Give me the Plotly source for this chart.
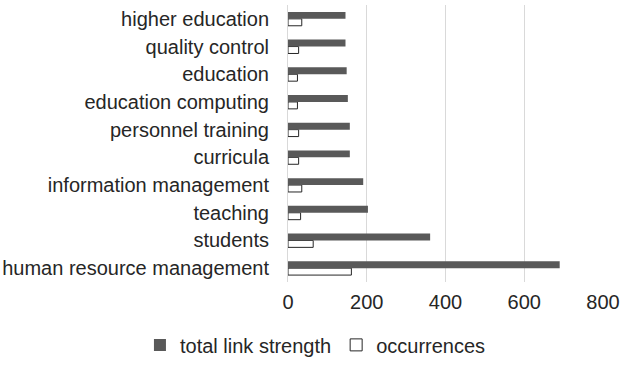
import plotly.graph_objects as go

categories = ["human resource management", "students", "teaching", "information management",
              "curricula", "personnel training", "education computing", "education",
              "quality control", "higher education"]
total_link_strength = [690, 361, 203, 191, 157, 157, 152, 149, 146, 146]
occurrences = [161, 64, 32, 35, 27, 27, 24, 24, 27, 35]

fig = go.Figure()
fig.add_trace(go.Bar(y=categories, x=occurrences, orientation="h", name="occurrences",
                     marker=dict(color="white", line=dict(color="#262626", width=1)),
                     legendrank=2))
fig.add_trace(go.Bar(y=categories, x=total_link_strength, orientation="h", name="total link strength",
                     marker=dict(color="#595959", line=dict(width=0)),
                     legendrank=1))

fig.update_layout(
    width=626, height=368,
    margin=dict(l=288, r=23, t=5, b=86, autoexpand=False),
    barmode="group", bargap=0.5, bargroupgap=0,
    paper_bgcolor="white", plot_bgcolor="white",
    font=dict(family="Liberation Sans, Arial, sans-serif", size=20, color="#262626"),
    xaxis=dict(range=[0, 800], tickvals=[0, 200, 400, 600, 800], showgrid=True,
               gridcolor="#d9d9d9", gridwidth=1, zeroline=False, ticks="",
               ticklabelstandoff=6, tickfont=dict(size=20, color="#262626")),
    yaxis=dict(categoryorder="array", categoryarray=categories, showline=True,
               linecolor="#d9d9d9", ticks="", ticklabelstandoff=14, tickfont=dict(size=20)),
    legend=dict(orientation="h", x=-0.47, xanchor="left",
                y=-0.227, yanchor="middle",
                font=dict(size=20), itemwidth=30, traceorder="normal"),
    showlegend=True,
)
fig.write_html("out.html")
